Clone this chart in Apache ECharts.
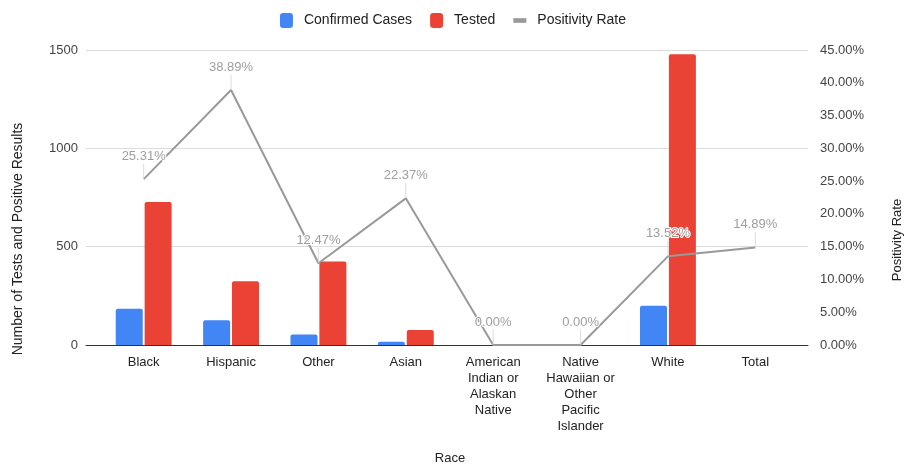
<!DOCTYPE html>
<html><head><meta charset="utf-8">
<script src="https://cdn.jsdelivr.net/npm/echarts@6/dist/echarts.min.js"></script>
<style>html,body{margin:0;padding:0;background:#fff}#c{width:906px;height:467px}</style>
</head><body><div id="c"></div>
<script>
var categories = ['Black','Hispanic','Other','Asian','American\nIndian or\nAlaskan\nNative','Native\nHawaiian or\nOther\nPacific\nIslander','White','Total'];
var confirmed = [184, 126, 53, 17, 0, 0, 200, null];
var tested = [727, 324, 425, 76, 0, 0, 1479, null];
var positivity = [25.31, 38.89, 12.47, 22.37, 0.00, 0.00, 13.52, 14.89];
var leftTicks = [0, 500, 1000, 1500];
var rightTicks = [0, 5, 10, 15, 20, 25, 30, 35, 40, 45];

var FONT = 'Liberation Sans, Arial, sans-serif';
var chart = echarts.init(document.getElementById('c'));
var T = 50, B = 122;
chart.setOption({
  animation: false,
  textStyle: {fontFamily: FONT},
  legend: {
    top: 8, left: 'center', itemWidth: 13, itemHeight: 15, itemGap: 18,
    textStyle: {fontSize: 14, color: '#222', fontFamily: FONT, padding: [0, 0, 0, 6]},
    data: [
      {name: 'Confirmed Cases', icon: 'roundRect'},
      {name: 'Tested', icon: 'roundRect'},
      {name: 'Positivity Rate', icon: 'path://M0,0 L14,0 L14,5 L0,5 Z', itemStyle: {color: '#999', opacity: 1}}
    ]
  },
  grid: [
    {left: 86, right: 98, top: T, bottom: B},
    {left: 100, right: 107, top: T, bottom: B}
  ],
  xAxis: [
    {type: 'value', gridIndex: 0, min: 0, max: 1, axisLabel: {show: false}, axisTick: {show: false}, splitLine: {show: false},
     axisLine: {show: true, lineStyle: {color: '#333', width: 1}}},
    {type: 'category', gridIndex: 1, data: categories, axisLine: {show: false}, axisTick: {show: false},
     axisLabel: {interval: 0, color: '#222', fontSize: 13, lineHeight: 16, margin: 9, fontFamily: FONT}}
  ],
  yAxis: [
    {type: 'value', gridIndex: 0, min: leftTicks[0], max: leftTicks[leftTicks.length-1], interval: 500,
     axisLine: {show: false}, axisTick: {show: false},
     axisLabel: {color: '#444', fontSize: 13, margin: 8, fontFamily: FONT, formatter: function(v){return String(v);}},
     splitLine: {lineStyle: {color: '#dcdcdc'}}},
    {type: 'value', gridIndex: 0, position: 'right', min: rightTicks[0], max: rightTicks[rightTicks.length-1], interval: 5,
     axisLine: {show: false}, axisTick: {show: false}, splitLine: {show: false},
     axisLabel: {color: '#444', fontSize: 13, margin: 12, fontFamily: FONT, formatter: function(v){return v.toFixed(2)+'%';}}},
    {type: 'value', gridIndex: 1, min: 0, max: 1500, show: false},
    {type: 'value', gridIndex: 1, min: 0, max: 45, show: false}
  ],
  graphic: [
    {type: 'text', x: 18, y: 239, rotation: Math.PI/2,
     style: {text: 'Number of Tests and Positive Results', fill: '#222', font: '14px ' + FONT, textAlign: 'center', textVerticalAlign: 'middle'}},
    {type: 'text', x: 897, y: 240, rotation: Math.PI/2,
     style: {text: 'Positivity Rate', fill: '#222', font: '13px ' + FONT, textAlign: 'center', textVerticalAlign: 'middle'}},
    {type: 'text', x: 450, y: 458,
     style: {text: 'Race', fill: '#222', font: '13px ' + FONT, textAlign: 'center', textVerticalAlign: 'middle'}}
  ],
  series: [
    {name: 'Confirmed Cases', type: 'bar', xAxisIndex: 1, yAxisIndex: 2, data: confirmed, barWidth: 27, barGap: '7%',
     itemStyle: {color: '#4285F4', borderRadius: [2,2,0,0]}},
    {name: 'Tested', type: 'bar', xAxisIndex: 1, yAxisIndex: 2, data: tested, barWidth: 27, barGap: '7%',
     itemStyle: {color: '#EA4335', borderRadius: [2,2,0,0]}},
    {name: 'Positivity Rate', type: 'line', xAxisIndex: 1, yAxisIndex: 3, data: positivity, showSymbol: true, symbol: 'circle', symbolSize: 1,
     lineStyle: {color: '#999', width: 2}, itemStyle: {color: 'rgba(153,153,153,0)'}, z: 5,
     label: {show: true, position: 'top', distance: 0, color: '#9e9e9e', fontSize: 13, fontFamily: FONT,
       textBorderColor: '#fff', textBorderWidth: 2, formatter: function(p){return p.value.toFixed(2)+'%';}},
     labelLayout: {dy: -16},
     labelLine: {show: true, lineStyle: {color: '#ddd', width: 1}}}
  ]
});
</script></body></html>
